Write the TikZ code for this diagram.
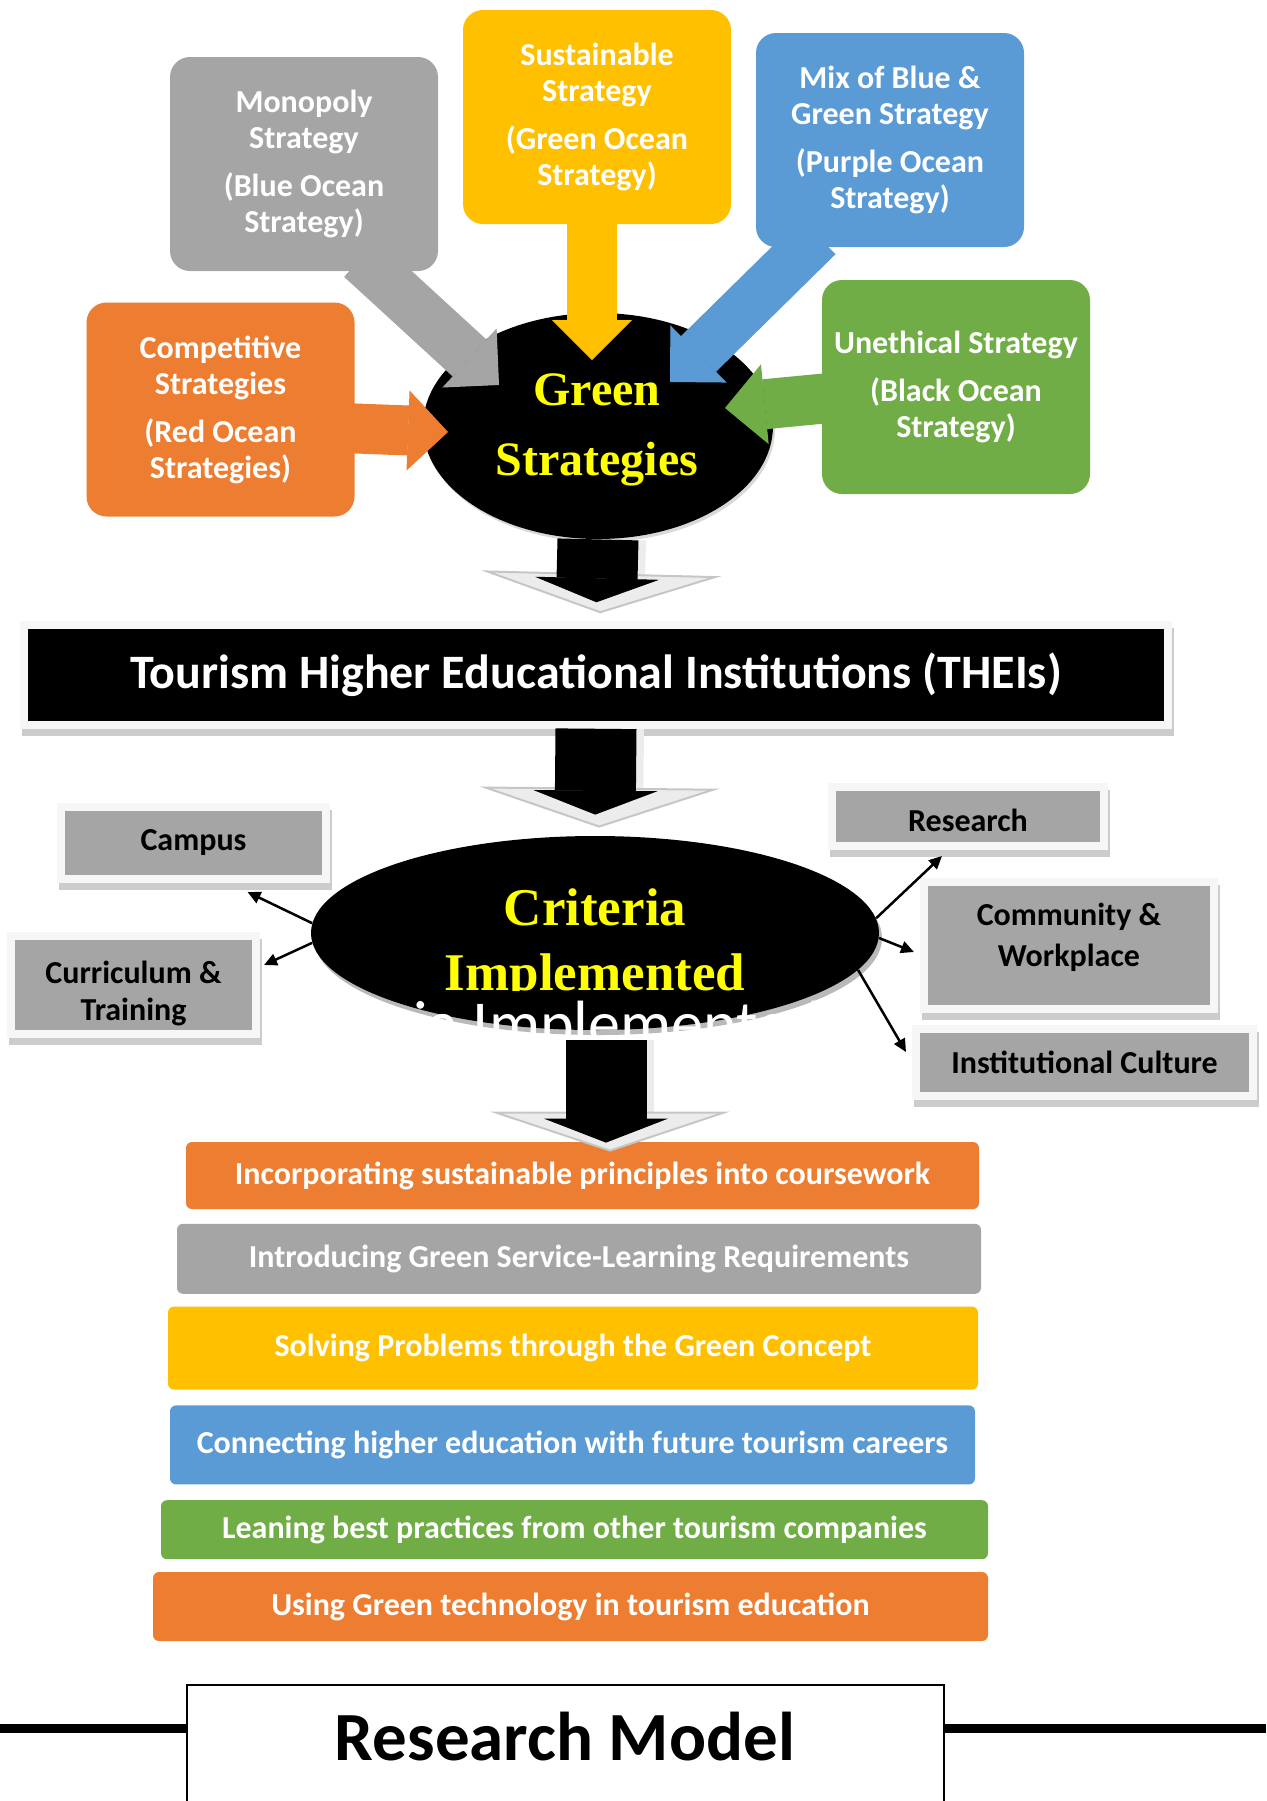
\documentclass[tikz,border=0pt]{standalone}
\usepackage{fontspec}
\setmainfont{Carlito}
\newfontfamily\serifbold{Liberation Serif}
\usepackage{tikz}
\usetikzlibrary{arrows.meta}
\usetikzlibrary{calc}
\usetikzlibrary{positioning}
\usetikzlibrary{shapes.geometric}

\definecolor{oceanorange}{HTML}{ED7D31}
\definecolor{oceangrey}{HTML}{A5A5A5}
\definecolor{oceanyellow}{HTML}{FFC000}
\definecolor{oceanblue}{HTML}{5B9BD5}
\definecolor{oceangreen}{HTML}{70AD47}
\definecolor{hubyellow}{HTML}{FFFF00}

\pgfdeclarelayer{bg}
\pgfdeclarelayer{mid}
\pgfsetlayers{bg,mid,main}

\tikzstyle{stratbox} = [rectangle, rounded corners=10pt, minimum width=134pt, minimum height=107pt, inner sep=0pt, text=white, align=center, font=\bfseries\fontsize{16}{18}\selectfont]
\tikzstyle{fatarrow} = [line width=25pt, -{Triangle[length=20pt,width=40pt,line width=0.5pt]}]
\tikzstyle{hub} = [ellipse, fill=black, inner sep=0pt]
\tikzstyle{hubtext} = [anchor=base, text=hubyellow, font=\serifbold\bfseries\fontsize{24}{28}\selectfont]
\tikzstyle{framebox} = [rectangle, draw=gray!7, line width=4pt, inner sep=0pt, preaction={draw=gray!40, fill=gray!40, transform canvas={shift={(1pt,-3.5pt)}}}]
\tikzstyle{critlabel} = [align=center, font=\bfseries\fontsize{16}{18.5}\selectfont]
\tikzstyle{thinarrow} = [line width=1.25pt, -{Triangle[length=6.5pt,width=6pt]}]
\tikzstyle{downshade} = [line width=44pt, draw=gray!15, -{Triangle[length=20pt,width=120pt,fill=gray!15,color=gray!45,line width=1pt]}, transform canvas={xshift=2pt}]
\tikzstyle{downblack} = [line width=40.5pt, draw=black, -{Triangle[length=12pt,width=62pt,line width=0.5pt]}]
\tikzstyle{bar} = [rectangle, rounded corners=3pt, inner sep=0pt, text=white, font=\bfseries\fontsize{16}{18}\selectfont]
\tikzstyle{modelline} = [line width=4.5pt]

\begin{document}
\begin{tikzpicture}[x=0.5pt, y=-0.5pt]
\useasboundingbox (0,0) rectangle (1266,1801);

% ocean strategies
\node[stratbox, fill=oceangrey] (mono) at (304,164) {Monopoly\\Strategy\\[6pt](Blue Ocean\\Strategy)};
\node[stratbox, fill=oceanyellow] (sust) at (597,117) {Sustainable\\Strategy\\[6pt](Green Ocean\\Strategy)};
\node[stratbox, fill=oceanblue] (mix) at (890,140) {Mix of Blue \&\\Green Strategy\\[6pt](Purple Ocean\\Strategy)};
\node[stratbox, fill=oceanorange] (comp) at (220.5,409.5) {Competitive\\Strategies\\[6pt](Red Ocean\\Strategies)};
\node[stratbox, fill=oceangreen] (uneth) at (956,387) {Unethical Strategy\\[6pt](Black Ocean\\Strategy)};

\begin{pgfonlayer}{bg}
\node[hub, minimum width=175pt, minimum height=113pt, preaction={fill=gray!30, transform canvas={shift={(1pt,-1.5pt)}}}] (gs) at (598,426) {};
\end{pgfonlayer}
\node[hubtext] (gsline1) at (597,405) {Green};
\node[hubtext] (gsline2) at (597,475) {Strategies};

\begin{pgfonlayer}{mid}
\draw[fatarrow, draw=oceangrey] ($(mono.south)+(57,-13)$) -- ($(gs)+(-99,-41)$);
\draw[fatarrow, draw=oceanyellow] ($(sust.south)+(-5,-14)$) -- ($(gs)+(-6,-66)$);
\draw[fatarrow, draw=oceanblue] ($(mix.south)+(-72,-11)$) -- ($(gs)+(72,-44)$);
\draw[fatarrow, draw=oceanorange] ($(comp.east)+(-25,18)$) -- ($(gs)+(-150,6)$);
\draw[fatarrow, draw=oceangreen] ($(uneth.west)+(18,10)$) -- ($(gs)+(127,-18)$);
\end{pgfonlayer}

% institutions
\node[framebox, fill=black, text=white, minimum width=572pt, minimum height=50pt, font=\bfseries\fontsize{24}{28}\selectfont] (theis) at (596,674.75) {Tourism Higher Educational Institutions (THEIs)};
\draw[downshade, shorten >=3.75pt] (gs.south) -- (theis.north);
\draw[downblack, shorten >=9.25pt] (gs.south) -- (theis.north);

% criteria
\node[hub, minimum width=284pt, minimum height=97pt, preaction={fill=gray!55, transform canvas={shift={(1.5pt,-2.5pt)}}}] (crit) at (595,933) {};
\node[hubtext, font=\serifbold\bfseries\fontsize{26.5}{30}\selectfont] (critline1) at (595,925) {Criteria};
\begin{scope}
\clip (300,800) rectangle (900,990);
\node[hubtext, font=\serifbold\bfseries\fontsize{26.5}{30}\selectfont] (critline2) at (595,990) {Implemented};
\end{scope}
\node[anchor=base west, text=white, font=\fontsize{32}{36}\selectfont] (critghost) at (260,1045) {Criteria Implemented};
\draw[downshade, shorten >=4pt] (theis.south) -- (crit.north);
\draw[downblack, shorten >=10.5pt] (theis.south) -- (crit.north);

\node[framebox, fill=oceangrey, minimum width=132.5pt, minimum height=36pt, font=\bfseries\fontsize{16}{18.5}\selectfont] (campus) at (193.5,843) {Campus};
\node[framebox, fill=oceangrey, minimum width=122.5pt, minimum height=49pt, label={[critlabel, yshift=-4.25pt]center:Curriculum \&\\Training}] (curric) at (133.5,985) {};
\node[framebox, fill=oceangrey, minimum width=136pt, minimum height=29.5pt, label={[critlabel, yshift=-1.75pt]center:Research}] (research) at (968,816.5) {};
\node[framebox, fill=oceangrey, minimum width=145pt, minimum height=63.5pt, label={[critlabel, yshift=4pt]center:Community \&\\[2pt]Workplace}] (commun) at (1069,945.5) {};
\node[framebox, fill=oceangrey, minimum width=168.5pt, minimum height=33.5pt, font=\bfseries\fontsize{16}{18.5}\selectfont] (inst) at (1084.5,1062.5) {Institutional Culture};

\draw[thinarrow] (crit.178) -- ($(campus.south)+(54,9)$);
\draw[thinarrow] (crit.182) -- ($(curric.east)+(4,-20)$);
\draw[thinarrow] (crit.3) -- ($(research.south)+(-26,6)$);
\draw[thinarrow] (crit.359) -- ($(commun.west)+(-6,6.5)$);
\draw[thinarrow] (crit.352) -- ($(inst.west)+(-6,-10.5)$);

% practices
\node[bar, fill=oceanorange, minimum width=396.5pt, minimum height=33.5pt] (bar1) at (582.5,1175.5) {Incorporating sustainable principles into coursework};
\node[bar, fill=oceangrey, minimum width=402pt, minimum height=35pt, below=7pt of bar1, xshift=-1.75pt] (bar2) {Introducing Green Service-Learning Requirements};
\node[bar, fill=oceanyellow, minimum width=405pt, minimum height=41.5pt, below=6pt of bar2, xshift=-3pt] (bar3) {Solving Problems through the Green Concept};
\node[bar, fill=oceanblue, minimum width=402.5pt, minimum height=39.5pt, below=7.5pt of bar3, xshift=-0.25pt] (bar4) {Connecting higher education with future tourism careers};
\node[bar, fill=oceangreen, minimum width=413.5pt, minimum height=29.5pt, below=7.5pt of bar4, xshift=1pt] (bar5) {Leaning best practices from other tourism companies};
\node[bar, fill=oceanorange, minimum width=417.5pt, minimum height=34.5pt, below=6pt of bar5, xshift=-2pt] (bar6) {Using Green technology in tourism education};

\draw[downshade, shorten >=-5pt] ($(crit.south)+(11,10)$) -- ($(bar1.north)+(23.5,0)$);
\draw[downblack, shorten >=-0.5pt] ($(crit.south)+(11,10)$) -- ($(bar1.north)+(23.5,0)$);

% research model
\node[draw=black, line width=1pt, minimum width=378.5pt, minimum height=80pt, anchor=north, inner sep=0pt] (rmbox) at (565.5,1684) {};
\node[anchor=base, font=\bfseries\fontsize{34.5}{40}\selectfont] (rmtitle) at (565,1760) {Research Model};
\coordinate (lineleft) at (0,1728);
\coordinate (lineright) at (1266,1728);
\draw[modelline] (lineleft) -- (lineleft -| rmbox.west);
\draw[modelline] (rmbox.east |- lineright) -- (lineright);
\end{tikzpicture}
\end{document}
